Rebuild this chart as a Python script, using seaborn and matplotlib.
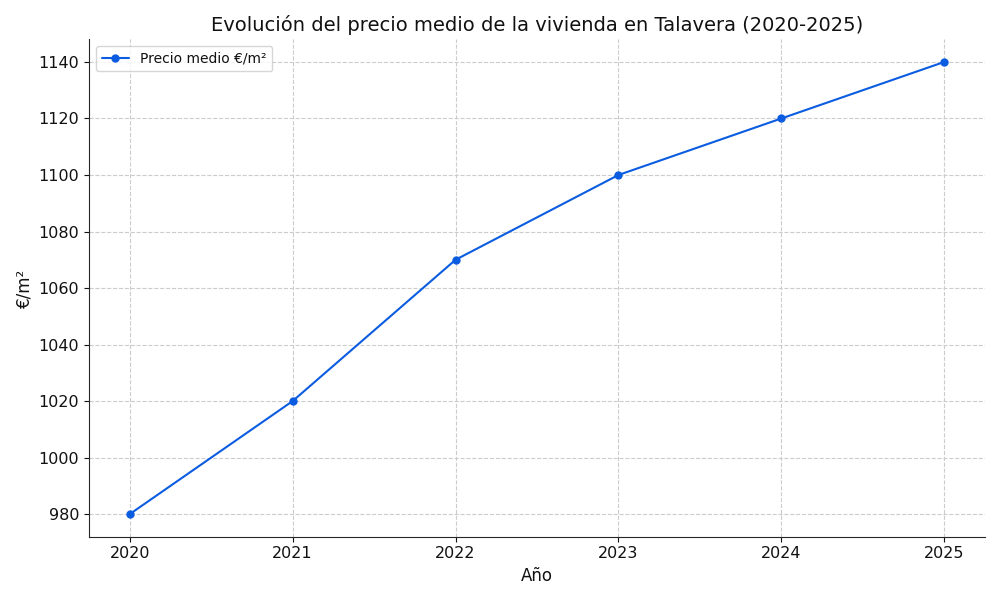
import matplotlib
matplotlib.use("Agg")
import matplotlib.pyplot as plt
import seaborn as sns
import pandas as pd

YEARS = [2020, 2021, 2022, 2023, 2024, 2025]
PRICES = [980, 1020, 1070, 1100, 1120, 1140]

sns.set_style("ticks")
plt.rcParams["font.family"] = ["DejaVu Sans"]
plt.rcParams["text.color"] = "#111111"
plt.rcParams["axes.labelcolor"] = "#111111"
plt.rcParams["xtick.color"] = "#111111"
plt.rcParams["ytick.color"] = "#111111"

df = pd.DataFrame({"year": YEARS, "price": PRICES})

fig, ax = plt.subplots(figsize=(10, 6), dpi=100)
sns.lineplot(data=df, x="year", y="price", marker="o", color="#0b5ce0",
             markeredgewidth=0, markersize=6, linewidth=1.5,
             label="Precio medio €/m²", ax=ax)
ax.grid(True, linestyle="--", color="#cccccc", linewidth=0.8)
ax.set_title("Evolución del precio medio de la vivienda en Talavera (2020-2025)", fontsize=14)
ax.set_xlabel("Año", fontsize=12)
ax.set_ylabel("€/m²", fontsize=12)
ax.set_xticks(YEARS)
ax.set_yticks(range(980, 1141, 20))
ax.tick_params(labelsize=11.5)
sns.despine(ax=ax)
ax.legend(loc="upper left", fontsize=10)
plt.tight_layout()
fig.savefig("out.png", dpi=100)
